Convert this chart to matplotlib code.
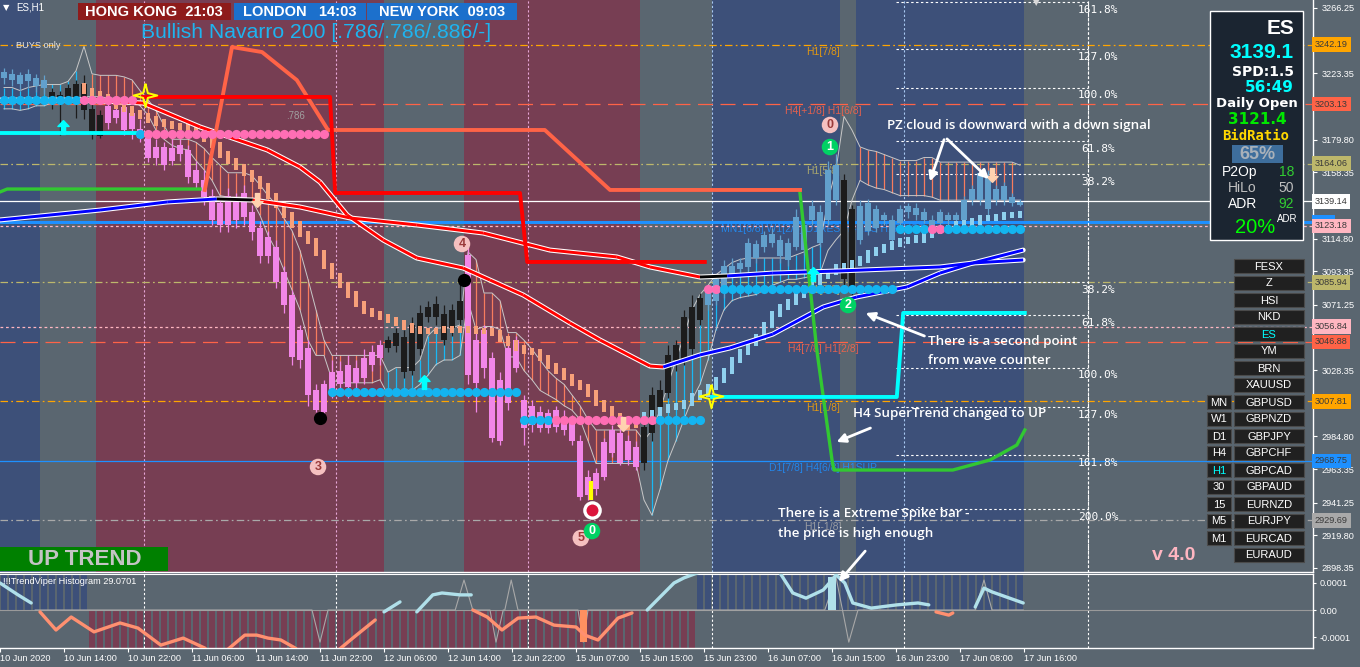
import numpy as np
import matplotlib
matplotlib.use("Agg")
import matplotlib.pyplot as plt
from matplotlib.path import Path
from matplotlib.patches import Rectangle, FancyArrowPatch
from matplotlib.collections import LineCollection

plt.rcParams['font.family'] = ['Liberation Sans', 'DejaVu Sans']

# ----------------------------------------------------------------- data
opens = [3220,3219,3216,3218,3215,3214,3206,3203,3208,3206,
         3216,3200,3196,3202,3199,3201,3197,3187,3181,3175,
         3175,3174,3176,3173,3160,3153,3143,3138,3143,3141,
         3145,3132,3122,3116,3109,3093,3078,3055,3043,3015,
         3019,3027,3028,3032,3030,3036,3040,3045,3043,3044,
         3027,3028,3042,3063,3063,3048,3056,3061,3104,3048,
         3055,3036,3022,3043,3048,3009,3005,3001,3000,3002,
         2997,2996,2982,2958,2961,2981,2989,2987,2982,2978,
         2967,2987,3004,3013,3035,3035,3042,3061,3071,3074,
         3079,3091,3095,3096,3102,3109,3112,3114,3101,3109,
         3124,3127,3132,3127,3140,3153,3083,3114,3120,3134,
         3127,3127,3125,3132,3135,3132,3127,3125,3127,3130,
         3127,3140,3140,3155,3147,3140,3142,3137]
highs = [3227,3226,3224,3226,3223,3222,3214,3212,3216,3219,
         3222,3203,3199,3206,3202,3206,3200,3193,3186,3180,
         3178,3180,3180,3176,3166,3160,3147,3141,3148,3145,
         3150,3137,3126,3120,3114,3097,3081,3058,3048,3019,
         3022,3035,3034,3038,3035,3042,3045,3048,3051,3056,
         3055,3063,3071,3074,3077,3071,3072,3089,3114,3055,
         3058,3040,3027,3048,3051,3012,3009,3005,3003,3005,
         3002,2999,2986,2963,2964,2984,2992,2990,2986,2982,
         2996,3017,3022,3045,3048,3068,3078,3079,3084,3091,
         3101,3102,3102,3115,3114,3120,3122,3117,3115,3134,
         3127,3140,3137,3166,3170,3157,3137,3140,3141,3137,
         3132,3130,3137,3138,3138,3135,3130,3134,3132,3132,
         3143,3150,3161,3160,3150,3152,3145,3141]
lows = [3216,3215,3212,3214,3211,3210,3200,3183,3206,3194,
        3193,3180,3181,3187,3191,3183,3180,3178,3165,3163,
        3160,3163,3166,3151,3148,3137,3124,3119,3119,3122,
        3124,3114,3099,3099,3082,3066,3032,3030,3005,3001,
        2997,3010,3012,3010,3012,3019,3028,3032,3040,3040,
        3023,3025,3038,3060,3058,3045,3051,3058,3019,3001,
        3023,2981,2979,3002,3027,2979,2988,2988,2987,2988,
        2986,2979,2943,2943,2946,2956,2971,2966,2966,2963,
        2963,2982,3001,3010,3028,3032,3038,3058,3068,3071,
        3076,3088,3093,3093,3099,3106,3109,3099,3097,3107,
        3104,3124,3109,3124,3137,3081,3078,3111,3117,3119,
        3124,3111,3122,3128,3127,3125,3119,3122,3124,3124,
        3126,3137,3137,3130,3137,3137,3136,3136]
closes = [3224,3223,3222,3223,3220,3219,3211,3209,3214,3216,
          3199,3183,3182,3191,3194,3186,3187,3181,3168,3168,
          3163,3166,3170,3155,3151,3142,3127,3124,3124,3127,
          3129,3119,3103,3103,3086,3071,3037,3035,3012,3002,
          3001,3015,3019,3017,3020,3023,3032,3036,3048,3053,
          3050,3058,3066,3070,3072,3065,3068,3074,3025,3020,
          3030,2984,2982,3007,3030,2990,2992,2990,2990,2991,
          2989,2982,2945,2946,2950,2958,2974,2967,2969,2965,
          2991,3012,3015,3038,3045,3063,3070,3076,3081,3088,
          3097,3097,3099,3112,3111,3117,3118,3103,3112,3129,
          3107,3136,3112,3160,3163,3088,3134,3136,3138,3122,
          3130,3114,3134,3136,3130,3127,3122,3132,3130,3127,
          3140,3147,3158,3134,3140,3149,3138,3139.1]
# candle colour state: runs of (kind, count)
candle_runs = [('S', 6), ('K', 7), ('P', 35), ('K', 10), ('P', 22),
               ('K', 8), ('S', 17), ('K', 2), ('S', 21)]

nan = float('nan')
ha_open = [nan]*10 + [
    3217,3214,3212,3210,3207,3205,3202,3199,3197,3195,
    3193,3192,3191,3190,3189,3187,3182,3178,3172,3168,
    3164,3160,3156,3151,3145,3139,3132,3126,3120,3115,
    3107,3099,3092,3086,3080,3074,3069,3067,3065,3063,
    3061,3059,3057,3056,3056,3057,3057,3057,3057,3057,
    3056,3056,3055,3051,3048,3045,3043,3042,3038,3033,
    3030,3026,3022,3019,3015,3009,3005,3000,2996,2995,
    2993,2997,2998,3000,3002,3003,3005,3009,3011,3015,
    3020,3026,3033,3038,3044,3048,3056,3063,3068,3071,
    3076,3080,3084,3088,3091,3094,3095,3097,3099,3103,
    3105,3107,3109,3111,3112,3112,3115,3118,3119,3120,
    3122,3123,3124,3126,3126,3127,3128,3128]
ha_close = [nan]*10 + [
    3210,3208,3206,3203,3200,3198,3195,3193,3191,3189,
    3188,3187,3186,3185,3183,3178,3174,3168,3164,3160,
    3156,3152,3147,3141,3135,3128,3122,3116,3111,3103,
    3095,3088,3082,3076,3070,3065,3063,3061,3059,3057,
    3055,3053,3052,3052,3052,3053,3053,3053,3053,3052,
    3052,3051,3047,3044,3041,3039,3038,3034,3029,3026,
    3022,3018,3015,3011,3005,3001,2996,2992,2989,2990,
    3001,3002,3004,3006,3007,3009,3013,3015,3019,3024,
    3030,3037,3042,3048,3052,3060,3067,3072,3075,3080,
    3084,3088,3092,3095,3098,3099,3101,3103,3107,3109,
    3111,3113,3115,3116,3117,3119,3122,3123,3124,3126,
    3127,3128,3130,3130,3131,3132,3132,3133]

cloud_hi = [3214,3214,3212,3214,3215,3216,3216,3216,3218,3225,
            3241,3223,3222,3222,3222,3221,3219,3212,3206,3199,
            3189,3180,3180,3180,3178,3174,3168,3163,3158,3158,
            3158,3156,3150,3143,3137,3128,3120,3107,3088,3068,
            3048,3038,3038,3038,3038,3038,3038,3038,3027,3030,
            3030,3030,3035,3051,3056,3056,3056,3058,3106,3101,
            3079,3079,3074,3053,3053,3048,3042,3035,3028,3023,
            3019,3012,3005,2996,2989,2989,2989,2989,2989,2989,
            2982,2989,3002,3019,3035,3051,3068,3078,3084,3091,
            3095,3099,3101,3102,3102,3102,3102,3102,3102,3104,
            3106,3109,3111,3140,3160,3195,3186,3175,3173,3172,
            3170,3168,3166,3166,3166,3168,3168,3165,3165,3165,
            3165,3165,3165,3165,3165,3165,3165,3163]
cloud_lo = [3200,3200,3199,3200,3202,3202,3204,3204,3206,3207,
            3208,3208,3208,3207,3207,3207,3206,3202,3196,3186,
            3180,3176,3174,3173,3166,3160,3153,3143,3142,3142,
            3142,3140,3130,3117,3107,3094,3081,3068,3048,3038,
            3038,3022,3020,3020,3020,3020,3020,3022,3012,3014,
            3015,3015,3019,3025,3032,3035,3035,3038,3074,3055,
            3057,3057,3055,3037,3037,3028,3022,3015,3012,3009,
            3005,3002,2996,2982,2967,2967,2967,2967,2967,2967,
            2943,2933,2950,2969,2982,2996,3009,3019,3035,3055,
            3068,3074,3076,3077,3078,3081,3084,3086,3088,3088,
            3089,3090,3092,3107,3114,3120,3140,3153,3150,3148,
            3147,3145,3143,3143,3143,3143,3142,3140,3140,3140,
            3140,3140,3140,3140,3140,3140,3140,3140]
cloud_runs = [('B', 10), ('N', 1), ('S', 37), ('B', 10), ('N', 1), ('S', 21),
              ('N', 1), ('B', 22), ('N', 4), ('S', 20), ('N', 1)]

# moving averages (vertices) and segment colours
ma_fast_x = [-0.5, 9.5, 17.4, 24.5, 32.9, 37.0, 39.5, 42.9, 47.4, 51.6, 57.4, 60.75, 64.9,
             70.75, 74.5, 80.75, 82.4, 87.0, 90.75, 96.1, 102.4, 106.6, 112.9, 117.0, 121.1, 127.4]
ma_fast_y = [3205.8, 3205.8, 3203.8, 3188.1, 3173.0, 3161.8, 3151.9, 3130.2, 3113.8, 3102.0,
             3095.4, 3087.5, 3077.7, 3059.3, 3048.1, 3031.0, 3030.4, 3038.3, 3042.9, 3052.0,
             3069.8, 3076.4, 3083.0, 3092.1, 3098.7, 3107.2]
ma_fast_seg = "B" + "R"*15 + "B"*9
ma_slow_x = [-0.5, 12.0, 20.4, 26.6, 31.1, 37.0, 43.25, 51.6, 59.9, 68.25, 76.6, 80.75, 87.0,
             90.4, 96.1, 104.5, 117.0, 121.1, 127.4]
ma_slow_y = [3127.0, 3133.5, 3138.8, 3140.8, 3140.1, 3135.5, 3128.3, 3123.7, 3118.4, 3107.2,
             3102.7, 3096.1, 3089.5, 3090.2, 3092.1, 3093.5, 3096.1, 3098.7, 3100.7]
ma_slow_seg = "BBBK" + "R"*8 + "K" + "B"*5

# supertrend lines (vertices)
st_red_x = [17.4, 40.75, 41.4, 64.5, 65.4, 87.6]
st_red_y = [3207.8, 3207.8, 3144.7, 3144.7, 3099.4, 3099.4]
st_tomato_x = [25.1, 28.5, 32.25, 36.6, 40.5, 67.6, 75.75, 99.5]
st_tomato_y = [3146.7, 3240.6, 3237.3, 3218.9, 3186.1, 3186.1, 3146.7, 3146.7]
st_green1_x = [-0.5, 0.4, 24.5]
st_green1_y = [3145.4, 3147.3, 3147.3]
st_green2_x = [99.5, 101.6, 103.5, 103.75, 118.6, 123.25, 126.6, 127.6]
st_green2_y = [3144.7, 3041.5, 2969.3, 2962.7, 2962.7, 2969.3, 2979.1, 2989.0]
st_cyan1_x = [-0.5, 16.6]
st_cyan1_y = [3184.1, 3184.1]
st_cyan2_x = [88.5, 111.6, 112.4, 127.6]
st_cyan2_y = [3010.7, 3010.7, 3065.9, 3065.9]

# dotted stop levels
dot_price = [3205.8, 3205.8, 3183.4, 3183.4, 3014.0, 2995.5, 2995.5, 2995.5,
             3081.6, 3081.6, 3121.0, 3121.0, 3121.0]
dot_first = [0, 10, 17, 18, 41, 65, 69, 82, 88, 90, 112, 116, 118]
dot_last = [9, 16, 17, 40, 64, 68, 81, 87, 89, 111, 115, 117, 127]
dot_kind = ['c', 'p', 'c', 'p', 'c', 'c', 'p', 'c', 'p', 'c', 'c', 'p', 'c']

# horizontal level lines
level_price = [3242.19, 3203.13, 3164.06, 3139.14, 3125.50, 3123.18, 3085.94,
               3056.84, 3046.88, 3007.81, 2968.75, 2929.69]
level_color = ['#ffa500', '#ff6347', '#bdb76b', '#ffffff', '#1e90ff', '#ffb6c1', '#bdb76b',
               '#ffb6c1', '#ff6347', '#ffa500', '#1e90ff', '#a9a9a9']
level_style = ['dd', 'ld', 'dd', 'solid', 'thick', 'sd', 'dd', 'sd', 'ld', 'dd', 'solid', 'dd']
level_label = ['H1[7/8]', 'H4[+1/8] H1[6/8]', 'H1[5/8]', '', 'MN1[6/8] W1[2/8] D1RES H4RES H1PIVOT',
               '', 'H1[3/8]', '', 'H4[7/8] H1[2/8]', 'H1[1/8]', 'D1[7/8] H4[6/8] H1SUP', 'H1[-1/8]']
tag_show = [True, True, True, True, False, True, True, True, True, True, True, True]

fib_price = [3270.3, 3239.0, 3214.0, 3179.0, 3157.0, 3086.0, 3064.5, 3030.0, 3004.0, 2972.6, 2937.0]
fib_label = ['161.8%', '127.0%', '100.0%', '61.8%', '38.2%', '38.2%', '61.8%', '100.0%',
             '127.0%', '161.8%', '200.0%']

price_ticks = [3266.25, 3244.80, 3223.35, 3201.25, 3179.80, 3158.35, 3136.25, 3114.80, 3093.35,
               3071.25, 3049.80, 3028.35, 3006.25, 2984.80, 2963.35, 2941.25, 2919.80, 2898.35]
price_tick_hidden = [3244.80, 3201.25, 3136.25, 3049.80, 3006.25]   # covered by price tags
time_tick_bar = [0, 8, 16, 24, 32, 40, 48, 56, 64, 72, 80, 88, 96, 104, 112, 120, 128]
time_label = ['10 Jun 2020', '10 Jun 14:00', '10 Jun 22:00', '11 Jun 06:00', '11 Jun 14:00',
              '11 Jun 22:00', '12 Jun 06:00', '12 Jun 14:00', '12 Jun 22:00', '15 Jun 07:00',
              '15 Jun 15:00', '15 Jun 23:00', '16 Jun 07:00', '16 Jun 15:00', '16 Jun 23:00',
              '17 Jun 08:00', '17 Jun 16:00']

session_start = [0, 12, 58, 89, 107]
session_end = [5, 48, 80, 105, 128]
session_kind = ['asia', 'down', 'down', 'asia', 'asia']
separator_bar = [18, 42, 66, 89, 113, 136]
separator_col = ['#e6a6d6', '#e6a6d6', '#e6a6d6', '#a9c9f2', '#a9c9f2', '#ffffff']

wave_text = ['0', '1', '4', '3', '5', '0', '2']
wave_bar = [103.25, 103.25, 57.25, 39.25, 72.1, 73.5, 105.5]
wave_price = [3189.4, 3174.9, 3111.2, 2964.7, 2918.0, 2922.6, 3071.1]
wave_kind = ['p', 'g', 'p', 'p', 'p', 'g', 'g']

black_dot_bar = [39.5, 57.5]
black_dot_price = [2996.9, 3087.5]
star_bar = [17.6, 88.4]
star_price = [3209.1, 3011.3]
up_arrow_bar = [7.4, 52.5, 101.1]
up_arrow_price = [3188.1, 3020.5, 3091.5]
down_arrow_bar = [31.6, 77.4, 123.5]
down_arrow_price = [3140.1, 2992.9, 3156.5]
signal_bar = [73.5]
signal_price = [2936.4]
spike_mark_bar = [73.4]
spike_mark_lo = [2943.0]
spike_mark_hi = [2955.4]

# TrendViper histogram sub-window
hist_runs = [(1.5e-4, 11), (-1.5e-4, 76), (1.5e-4, 41)]
tv_up = [([-0.5, 1.75, 3.4], [1.00e-4, 0.56e-4, 0.26e-4]),
         ([47.5, 49.5], [-0.07e-4, 0.30e-4]),
         ([51.6, 53.6, 54.75, 57.0, 58.4], [-0.07e-4, 0.56e-4, 0.63e-4, 0.56e-4, 0.56e-4]),
         ([80.4, 83.75, 85.0, 87.0, 89.5, 95.75, 97.0, 98.6, 100.25, 102.4, 103.5, 104.0, 105.1,
           106.1, 108.4, 111.6, 114.25, 115.6],
          [0.0, 1.00e-4, 1.19e-4, 1.41e-4, 1.85e-4, 1.85e-4, 1.37e-4, 0.63e-4, 0.44e-4, 0.74e-4,
           1.11e-4, 1.30e-4, 1.00e-4, 0.26e-4, 0.07e-4, 0.19e-4, 0.26e-4, 0.19e-4]),
         ([121.4, 122.5, 123.5, 127.4], [0.11e-4, 0.81e-4, 0.67e-4, 0.26e-4])]
tv_dn = [([4.5, 6.5, 8.4, 11.25, 14.5, 16.75, 19.6, 22.4, 25.1, 26.4, 30.1, 31.6, 33.0, 34.6,
           36.4, 39.25, 42.1, 43.6, 46.4],
          [-0.07e-4, -0.74e-4, -0.26e-4, -0.81e-4, -0.48e-4, -0.67e-4, -1.30e-4, -1.04e-4,
           -1.41e-4, -1.85e-4, -0.93e-4, -0.93e-4, -1.04e-4, -1.11e-4, -1.41e-4, -2.15e-4,
           -1.41e-4, -1.04e-4, -0.37e-4]),
         ([58.6, 60.4, 62.25, 64.25, 66.5, 68.75, 71.5, 72.6, 74.25, 75.4, 76.75, 78.5],
          [0.0, -0.26e-4, -0.74e-4, -0.30e-4, -0.26e-4, -0.56e-4, -0.63e-4, -0.93e-4, -1.11e-4,
           -0.74e-4, -0.30e-4, -0.11e-4]),
         ([116.5, 118.1, 118.6], [-0.07e-4, -0.19e-4, -0.11e-4])]
tv_gray_x = [3.9, 38.5, 39.5, 40.5, 56.4, 57.5, 58.6, 60.75, 61.5, 62.4, 62.6, 63.4, 64.25,
             71.75, 72.4, 73.0, 102.6, 104.0, 105.6, 106.75, 121.4, 122.5, 123.5, 127.4]
tv_gray_y = [0, 0, -1.19e-4, 0, 0, 1.11e-4, 0, 0, -1.19e-4, 0, 0, 1.11e-4, 0,
             0, -1.19e-4, 0, 0, 1.22e-4, -1.19e-4, 0, 0, 1.11e-4, 0, 0]
tv_spike_bar = [72.4, 103.5]
tv_spike_val = [-1.19e-4, 1.22e-4]

symbols = ['FESX', 'Z', 'HSI', 'NKD', 'ES', 'YM', 'BRN', 'XAUUSD', 'GBPUSD', 'GBPNZD', 'GBPJPY',
           'GBPCHF', 'GBPCAD', 'GBPAUD', 'EURNZD', 'EURJPY', 'EURCAD', 'EURAUD']
timeframes = ['MN', 'W1', 'D1', 'H4', 'H1', '30', '15', 'M5', 'M1']

# ----------------------------------------------------------------- style
W, H = 1360, 667
BG = '#5a6670'
SESSION_COL = {'asia': '#3d5079', 'down': '#773e53'}
CANDLE_COL = {'S': '#62a0cc', 'K': '#1c1c1c', 'P': '#f286e8'}
CLOUD_COL = {'S': '#f77c5e', 'B': '#19b8f5'}
MA_COL = {'B': '#0000ff', 'R': '#ff0000', 'K': '#000000'}
DOT_COL = {'c': '#14b4f0', 'p': '#ff6eb4'}
DASH = {'dd': (0, (6, 2.6, 1.4, 2.6)), 'ld': (0, (12, 6)), 'sd': (0, (2.2, 2.2)),
        'solid': '-', 'thick': '-'}


def runs_to_list(runs):
    out = []
    for k, n in runs:
        out.extend([k] * n)
    return out


kinds = runs_to_list(candle_runs)
ckinds = runs_to_list(cloud_runs)
hist_vals = []
for v, n in hist_runs:
    hist_vals.extend([v] * n)

fig = plt.figure(figsize=(W / 100, H / 100), dpi=100, facecolor=BG)
ax = fig.add_axes([0, (H - 572) / H, 1313 / W, 572 / H])
sub = fig.add_axes([0, (H - 648) / H, 1313 / W, 74 / H])
XL = (-0.5, (1313 - 4) / 8)
for a in (ax, sub):
    a.set_facecolor(BG)
    a.set_xlim(*XL)
    for s in ('left', 'top'):
        a.spines[s].set_visible(False)
    for s in ('right', 'bottom'):
        a.spines[s].set_color('white')
        a.spines[s].set_linewidth(1)
sub.spines['top'].set_visible(True)
sub.spines['top'].set_color('white')
ax.set_ylim(2895.7, 3271.5)
sub.set_ylim(-1.407e-4, 1.333e-4)

# sessions & separators
for s, e, k in zip(session_start, session_end, session_kind):
    ax.axvspan(s - 0.5, e - 0.5, color=SESSION_COL[k], lw=0, zorder=0)
for b, c in zip(separator_bar, separator_col):
    ax.axvline(b - 0.5, color=c, lw=0.8, ls=(0, (2, 2)), zorder=1)
    sub.axvline(b - 0.5, color='white', lw=0.8, ls=(0, (2, 2)), zorder=1)

# level lines
for p, c, st, lab in zip(level_price, level_color, level_style, level_label):
    lw = 2.2 if st == 'thick' else 0.9
    ax.axhline(p, color=c, lw=lw, ls=DASH[st], zorder=2)
    if lab:
        ax.annotate(lab, xy=(102.4, p), xytext=(0, -1.5), textcoords='offset points',
                    ha='center', va='top', fontsize=7.5, color=c, alpha=0.85, zorder=2)

# fibonacci levels
for p, lab in zip(fib_price, fib_label):
    ax.plot([111.5, 135.5], [p, p], color='white', lw=0.8, ls=(0, (2.2, 2.2)), zorder=2)
    ax.annotate(lab, xy=(136.75, p), xytext=(0, -2), textcoords='offset points', ha='center',
                va='top', fontsize=8, color='white', family='DejaVu Sans Mono', zorder=2)
ax.axvline(135.5, color='white', lw=0.8, ls=(0, (2.2, 2.2)), zorder=2)

idx = np.arange(len(opens))

# cloud hatch + channel lines
for i in idx:
    k = ckinds[i]
    if k in CLOUD_COL:
        ax.vlines(i, cloud_lo[i], cloud_hi[i], color=CLOUD_COL[k], lw=0.9, zorder=3)
ax.plot(idx, cloud_hi, color='#c8c8c8', lw=0.7, zorder=3.2)
ax.plot(idx, cloud_lo, color='#c8c8c8', lw=0.7, zorder=3.2)

# price candles
for i in idx:
    col = CANDLE_COL[kinds[i]]
    ax.vlines(i, lows[i], highs[i], color=col, lw=0.9, zorder=4)
    lo, hi = min(opens[i], closes[i]), max(opens[i], closes[i])
    ax.add_patch(Rectangle((i - 0.32, lo), 0.64, max(hi - lo, 0.6), fc=col, ec='none', zorder=4))

# smoothed candles
for i in idx:
    o, c = ha_open[i], ha_close[i]
    if np.isnan(o):
        continue
    col = '#f7a07a' if c < o else '#8fd0ee'
    lo, hi = min(o, c), max(o, c)
    ax.add_patch(Rectangle((i - 0.3, lo), 0.6, hi - lo, fc=col, ec='none', zorder=5))


# moving averages
def draw_ma(xs, ys, segs):
    ax.plot(xs, ys, color='white', lw=3.6, zorder=6, solid_capstyle='round')
    pts = np.column_stack([xs, ys])
    lines = [pts[j:j + 2] for j in range(len(xs) - 1)]
    ax.add_collection(LineCollection(lines, colors=[MA_COL[s] for s in segs], lw=2.1, zorder=6.1))


draw_ma(ma_fast_x, ma_fast_y, ma_fast_seg)
draw_ma(ma_slow_x, ma_slow_y, ma_slow_seg)

# supertrends
ax.plot(st_green1_x, st_green1_y, color='#32c832', lw=2.4, zorder=6.5)
ax.plot(st_green2_x, st_green2_y, color='#32c832', lw=2.4, zorder=6.5)
ax.plot(st_tomato_x, st_tomato_y, color='#ff6347', lw=2.8, zorder=6.5)
ax.plot(st_red_x, st_red_y, color='#ff0000', lw=2.8, zorder=6.5)
ax.plot(st_cyan1_x, st_cyan1_y, color='#00ffff', lw=2.8, zorder=6.5)
ax.plot(st_cyan2_x, st_cyan2_y, color='#00ffff', lw=2.8, zorder=6.5)

# dot levels
for p, a0, a1, k in zip(dot_price, dot_first, dot_last, dot_kind):
    xs = np.arange(a0, a1 + 1)
    ax.plot(xs, [p] * len(xs), 'o', ms=6.6, color=DOT_COL[k], mec='none', zorder=7)

# markers
star = Path([(0, 1), (0.2, 0.2), (1, 0), (0.2, -0.2), (0, -1), (-0.2, -0.2), (-1, 0), (-0.2, 0.2), (0, 1)])
up_arrow = Path([(0, 1), (0.8, 0.15), (0.3, 0.15), (0.3, -1), (-0.3, -1), (-0.3, 0.15), (-0.8, 0.15), (0, 1)])
down_arrow = Path([(0, -1), (0.8, -0.15), (0.3, -0.15), (0.3, 1), (-0.3, 1), (-0.3, -0.15), (-0.8, -0.15), (0, -1)])
ax.plot(star_bar, star_price, ls='none', marker=star, ms=17, mfc='none', mec='#ffff00', mew=1.4, zorder=8)
ax.plot(up_arrow_bar, up_arrow_price, ls='none', marker=up_arrow, ms=10, color='#00ffff', zorder=8)
ax.plot(down_arrow_bar, down_arrow_price, ls='none', marker=down_arrow, ms=10, color='#ffd2b0', zorder=8)
ax.plot(black_dot_bar, black_dot_price, 'o', ms=8.5, color='black', zorder=8)
ax.vlines(spike_mark_bar, spike_mark_lo, spike_mark_hi, color='#ffff00', lw=3, zorder=8)
ax.plot(signal_bar, signal_price, 'o', ms=11, mfc='#dc143c', mec='white', mew=2.4, zorder=8)
for t, b, p, k in zip(wave_text, wave_bar, wave_price, wave_kind):
    fc, tc = ('#f5c0c0', '#9a3a3a') if k == 'p' else ('#00d264', '#ffffff')
    ax.text(b, p, t, ha='center', va='center', fontsize=9, fontweight='bold', color=tc, zorder=9,
            bbox=dict(boxstyle='circle,pad=0.18', fc=fc, ec='none'))
ax.text(36.5, 3195.3, '.786', fontsize=7, color='#a0a0a0', ha='center', va='center', zorder=9)

# price axis
ax.yaxis.tick_right()
ax.set_yticks(price_ticks)
ax.set_yticklabels(['' if v in price_tick_hidden else '%.2f' % v for v in price_ticks])
ax.tick_params(axis='y', colors='white', labelsize=6.6, length=3, width=0.8, pad=3)
ax.set_xticks([])
for p, c, show in zip(level_price, level_color, tag_show):
    txt = '%.2f' % p if show else '       '
    ax.text(1.0015, p, txt, transform=ax.get_yaxis_transform(), ha='left', va='center',
            fontsize=6.6, color='#3a3a3a', clip_on=False, zorder=20,
            bbox=dict(boxstyle='square,pad=0.3', fc=c, ec='none'))

# sub window
sub.bar(idx, hist_vals, width=0.78, color=['#3d5079' if v > 0 else '#773e53' for v in hist_vals],
        zorder=2)
sub.axhline(0, color='#9a9a9a', lw=0.8, zorder=2.5)
sub.plot(tv_gray_x, tv_gray_y, color='#a8a8a8', lw=0.8, zorder=3)
sub.bar(tv_spike_bar, tv_spike_val, width=0.9,
        color=['#ff9060' if v < 0 else '#b0e0ea' for v in tv_spike_val], zorder=3.5)
for xs, ys in tv_up:
    sub.plot(xs, ys, color='#b0e0ea', lw=2.4, zorder=4, solid_capstyle='round')
for xs, ys in tv_dn:
    sub.plot(xs, ys, color='#ff9070', lw=2.4, zorder=4, solid_capstyle='round')
sub.yaxis.tick_right()
sub.set_yticks([1e-4, 0, -1e-4])
sub.set_yticklabels(['0.0001', '0.00', '-0.0001'])
sub.tick_params(axis='y', colors='white', labelsize=6.6, length=2, pad=3)
sub.set_xticks(np.array(time_tick_bar) - 0.5)
sub.set_xticklabels(time_label)
sub.tick_params(axis='x', colors='white', labelsize=6.6, length=3, pad=1.5)
for lbl in sub.get_xticklabels():
    lbl.set_ha('left')


# ----------------------------------------------------------------- overlay (figure px)
def fx(x):
    return x / W


def fy(y):
    return 1 - y / H


def ftext(x, y, s, **kw):
    kw.setdefault('va', 'center')
    fig.text(fx(x), fy(y), s, **kw)


def frect(x0, y0, x1, y1, **kw):
    fig.add_artist(Rectangle((fx(x0), fy(y1)), (x1 - x0) / W, (y1 - y0) / H,
                             transform=fig.transFigure, **kw))


def farrow(p0, p1):
    fig.add_artist(FancyArrowPatch((fx(p0[0]), fy(p0[1])), (fx(p1[0]), fy(p1[1])),
                                   transform=fig.transFigure, arrowstyle='-|>', mutation_scale=13,
                                   color='white', lw=2, zorder=30))


ftext(3, 8, '\u25bc', color='white', fontsize=6, family='DejaVu Sans')
ftext(16, 8, 'ES,H1', color='white', fontsize=7)
ftext(1036, 3, '\u25bc', color='#d8d8d8', fontsize=6, family='DejaVu Sans', ha='center')
frect(78, 3, 231, 20, fc='#8e1b1b', ec='none')
frect(234, 3, 366, 20, fc='#1c70cc', ec='none')
frect(367, 3, 517, 20, fc='#1c70cc', ec='none')
ftext(154, 11.5, 'HONG KONG  21:03', color='white', fontsize=10.5, fontweight='bold', ha='center')
ftext(300, 11.5, 'LONDON   14:03', color='white', fontsize=10.5, fontweight='bold', ha='center')
ftext(442, 11.5, 'NEW YORK  09:03', color='white', fontsize=10.5, fontweight='bold', ha='center')
ftext(141, 33, 'Bullish Navarro 200 [.786/.786/.886/-]', color='#1eb4f0', fontsize=15.2)
ftext(16, 45, 'BUYS only', color='#e2e2e2', fontsize=6.6)
ftext(3, 581, '!!!TrendViper Histogram 29.0701', color='white', fontsize=6.6)
frect(0, 547, 168, 571, fc='#008000', ec='none')
ftext(85, 559.5, 'UP TREND', color='#c4c4c4', fontsize=16, fontweight='bold', ha='center')
ftext(1174, 556, 'v 4.0', color='#ffb6c1', fontsize=14, fontweight='bold', ha='center')

ann = dict(color='white', fontsize=9.6, family=['Open Sans', 'DejaVu Sans'], fontweight='semibold')
ftext(887, 125, 'PZ cloud is downward with a down signal', **ann)
ftext(928, 341, 'There is a second point', **ann)
ftext(928, 360, 'from wave counter', **ann)
ftext(853, 414, 'H4 SuperTrend changed to UP', **ann)
ftext(778, 514, 'There is a Extreme Spike bar -', **ann)
ftext(778, 534, 'the price is high enough', **ann)
farrow((945, 137), (929, 184))
farrow((945, 137), (991, 181))
farrow((927, 337), (863, 312))
farrow((873, 427), (834, 443))
farrow((867, 549), (837, 584))

# info panel
frect(1210, 11, 1303, 240, fc='#1b2531', ec='white', lw=1)
ftext(1294, 29, 'ES', color='white', fontsize=15, fontweight='bold', ha='right')
ftext(1294, 53, '3139.1', color='#00ffff', fontsize=15, fontweight='bold', ha='right')
ftext(1294, 72, 'SPD:1.5', color='white', fontsize=10, fontweight='bold', ha='right',
      family='DejaVu Sans')
ftext(1294, 88, '56:49', color='#00ffff', fontsize=11, fontweight='bold', ha='right',
      family='DejaVu Sans')
ftext(1257, 103, 'Daily Open', color='white', fontsize=9.5, fontweight='bold', ha='center',
      family='DejaVu Sans')
ftext(1257, 119, '3121.4', color='#00e800', fontsize=11, fontweight='bold', ha='center',
      family='DejaVu Sans')
ftext(1256, 136, 'BidRatio', color='#ffd700', fontsize=10, fontweight='bold', ha='center',
      family='DejaVu Sans Mono')
frect(1232, 145, 1283, 163, fc='#3e6e9c', ec='none')
ftext(1257, 154.5, '65%', color='#a9b1b9', fontsize=13, fontweight='bold', ha='center')
ftext(1222, 172, 'P2Op', color='white', fontsize=10)
ftext(1294, 172, '18', color='#32cd32', fontsize=10, ha='right')
ftext(1228, 188, 'HiLo', color='#c0c0c0', fontsize=10)
ftext(1294, 188, '50', color='#c0c0c0', fontsize=10, ha='right')
ftext(1228, 204, 'ADR', color='white', fontsize=10)
ftext(1294, 204, '92', color='#32cd32', fontsize=10, ha='right')
ftext(1275, 227, '20%', color='#00ff00', fontsize=14.5, ha='right')
ftext(1277, 219, 'ADR', color='white', fontsize=7)

# symbol buttons
for k, s in enumerate(symbols):
    top = 259 + 17 * k
    frect(1234, top, 1304, top + 14, fc='#202020', ec='#4a4a4a', lw=0.8)
    ftext(1269, top + 7.5, s, color='#00ffff' if s == 'ES' else 'white', fontsize=8,
          ha='center')
for k, t in enumerate(timeframes):
    top = 259 + 17 * (k + 8)
    frect(1207, top, 1231, top + 14, fc='#202020', ec='#4a4a4a', lw=0.8)
    ftext(1219, top + 7.5, t, color='#00ffff' if t == 'H1' else 'white', fontsize=8,
          ha='center')

fig.savefig('out.png', dpi=100, facecolor=BG)
